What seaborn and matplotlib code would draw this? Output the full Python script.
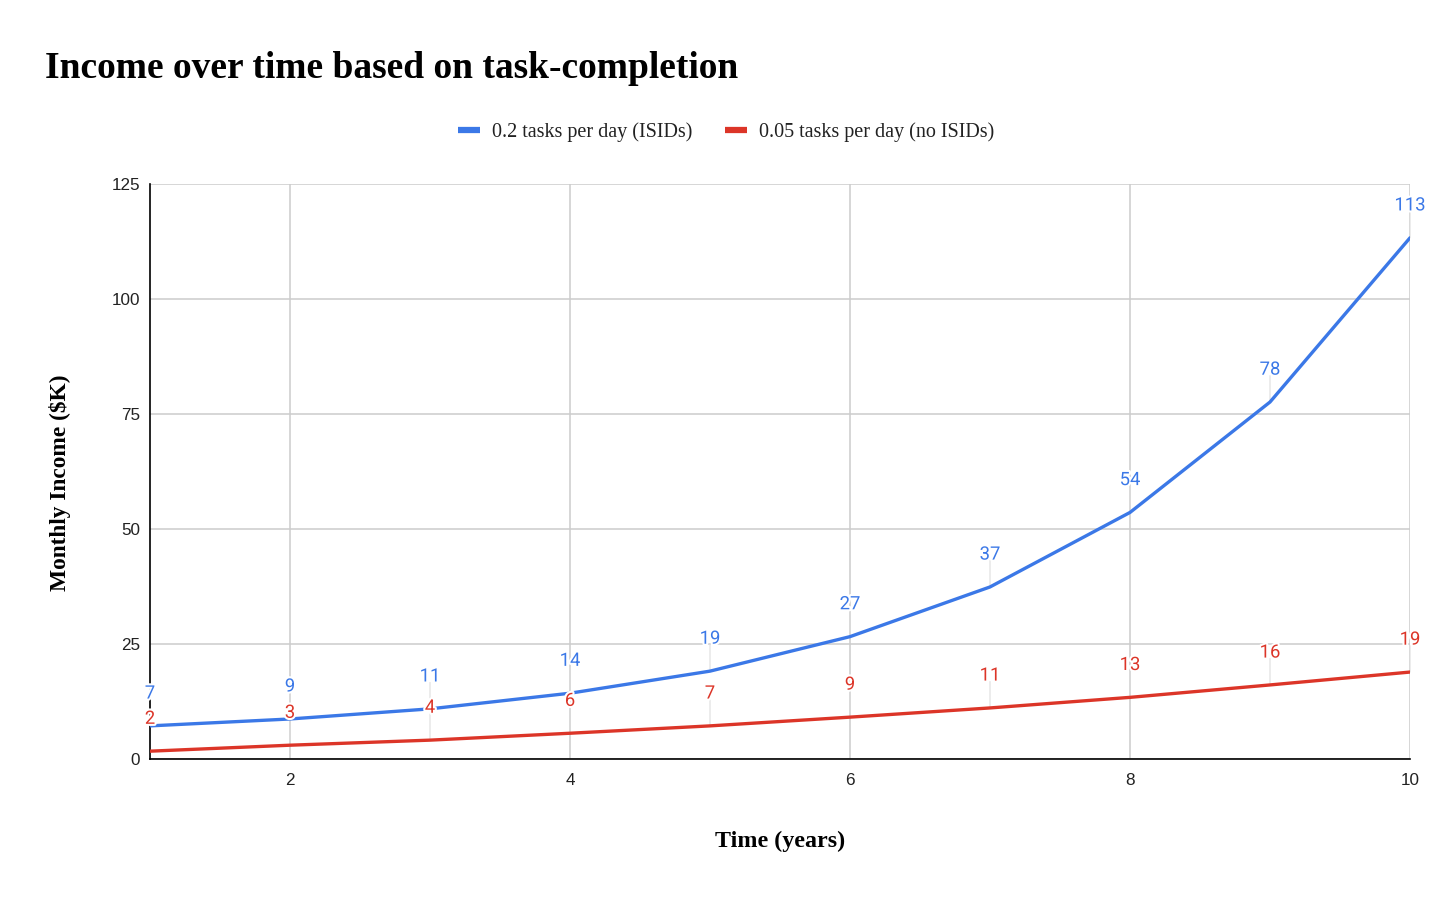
import matplotlib
matplotlib.use("Agg")
import matplotlib.pyplot as plt
import matplotlib.patheffects as pe
import seaborn as sns
import pandas as pd

years = [1, 2, 3, 4, 5, 6, 7, 8, 9, 10]
isids = [7.2, 8.7, 10.9, 14.3, 19.1, 26.6, 37.4, 53.6, 77.6, 113.3]
no_isids = [1.7, 3.0, 4.1, 5.6, 7.2, 9.1, 11.1, 13.4, 16.1, 18.9]
series_names = ["0.2 tasks per day (ISIDs)", "0.05 tasks per day (no ISIDs)"]
colors = ["#3b78e7", "#dc3528"]
yticks = [0, 25, 50, 75, 100, 125]
xticks = [2, 4, 6, 8, 10]

df = pd.DataFrame({
    "Time": years * 2,
    "Income": isids + no_isids,
    "Series": [series_names[0]] * len(years) + [series_names[1]] * len(years),
})

sns.set_theme(style="white")
plt.rcParams["font.family"] = ["Liberation Sans", "DejaVu Sans"]

fig = plt.figure(figsize=(14.56, 9.01), dpi=100)
ax = fig.add_axes([150/1456, 1-759/901, 1260/1456, 575/901])

sns.lineplot(data=df, x="Time", y="Income", hue="Series", palette=colors,
             linewidth=2.4, ax=ax, legend=True, zorder=3)

ax.set_xlim(1, 10)
ax.set_ylim(0, 125)
ax.set_xticks(xticks)
ax.set_yticks(yticks)
ax.grid(True, color="#cccccc", linewidth=1.1)
ax.set_axisbelow(True)
for s in ["top", "right"]:
    ax.spines[s].set_visible(False)
ax.spines["left"].set_color("black")
ax.spines["bottom"].set_color("black")
ax.spines["left"].set_linewidth(1.2)
ax.spines["bottom"].set_linewidth(1.2)
ax.tick_params(axis="both", length=0, labelsize=12.3, colors="#222222")
ax.tick_params(axis="y", pad=7)
ax.tick_params(axis="x", pad=10)
ax.set_xlabel("")
ax.set_ylabel("")

# data labels with leader lines
for vals, col in [(isids, colors[0]), (no_isids, colors[1])]:
    for x, v in zip(years, vals):
        ax.annotate("", xy=(x, v), xytext=(0, 19), textcoords="offset points",
                    arrowprops=dict(arrowstyle="-", color="#dddddd", lw=0.8,
                                    shrinkA=0, shrinkB=0), zorder=2)
        t = ax.annotate(f"{v:.0f}", xy=(x, v), xytext=(0, 23.3), textcoords="offset points",
                        ha="center", va="center", color=col, fontsize=13.3,
                        family=["Roboto", "DejaVu Sans"], zorder=5, annotation_clip=False)
        t.set_path_effects([pe.withStroke(linewidth=3, foreground="white")])

# legend
handles, labels = ax.get_legend_handles_labels()
ax.get_legend().remove()
leg = fig.legend(handles, labels, loc="center", bbox_to_anchor=(726/1456, 1-132/901),
                 ncol=2, frameon=False, handlelength=1.1, columnspacing=1.6,
                 handletextpad=0.6, prop={"family": "Liberation Serif", "size": 14.5})
for h in leg.get_lines():
    h.set_linewidth(4.5)
    h.set_solid_capstyle("butt")
for t in leg.get_texts():
    t.set_color("#222222")

fig.text(45/1456, 1-68/901, "Income over time based on task-completion", ha="left", va="center",
         fontsize=27, weight="bold", family="Liberation Serif", color="black")
fig.text(60/1456, 1-483/901, "Monthly Income ($K)", rotation=90, ha="center", va="center",
         fontsize=16.8, weight="bold", family="Liberation Serif", color="black")
fig.text(780/1456, 1-841/901, "Time (years)", ha="center", va="center",
         fontsize=17.3, weight="bold", family="Liberation Serif", color="black")

fig.savefig("out.png", dpi=100, facecolor="white")
